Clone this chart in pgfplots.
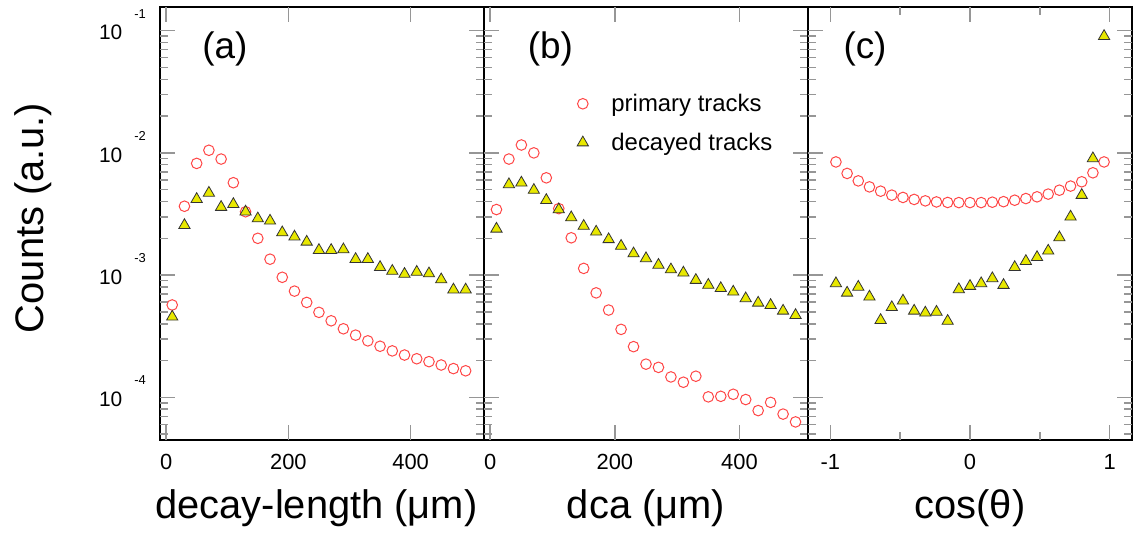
\documentclass[border=0pt]{standalone}
\usepackage{fontspec}
\setmainfont{Liberation Sans}
\usepackage{pgfplots}
\pgfplotsset{compat=1.18}
\definecolor{primcol}{RGB}{255,70,70}
\definecolor{decfill}{RGB}{232,232,0}
\definecolor{tickcol}{RGB}{150,150,150}
\pgfplotsset{
 primsty/.style={only marks, mark=o, mark size=5.3bp, color=primcol, mark options={line width=1bp}},
 decsty/.style={only marks, mark=triangle*, mark size=6.5bp, color=black!80, mark options={draw=black!80, fill=decfill, line width=0.8bp}},
}
\tikzset{plabel/.style={font=\fontsize{37}{37}\selectfont, inner sep=0pt},
         tk/.style={draw=tickcol, line width=1.5bp}}
% y ticks on both sides of a panel: #1 = xmin, #2 = xmax
\newcommand{\yticksdraw}[2]{%
 \pgfplotsinvokeforeach{1e-4,1e-3,1e-2,1e-1}{\draw[tk] (axis cs:#1,##1) -- ++(15bp,0pt); \draw[tk] (axis cs:#2,##1) -- ++(-15bp,0pt);}%
 \pgfplotsinvokeforeach{5e-5,6e-5,7e-5,8e-5,9e-5,2e-4,3e-4,4e-4,5e-4,6e-4,7e-4,8e-4,9e-4,2e-3,3e-3,4e-3,5e-3,6e-3,7e-3,8e-3,9e-3,2e-2,3e-2,4e-2,5e-2,6e-2,7e-2,8e-2,9e-2}{\draw[tk] (axis cs:#1,##1) -- ++(8bp,0pt); \draw[tk] (axis cs:#2,##1) -- ++(-8bp,0pt);}%
}
% x ticks at bottom and top: #1 = list, #2 = length
\newcommand{\xticksdraw}[2]{%
 \pgfplotsinvokeforeach{#1}{\draw[tk] (axis cs:##1,4.48e-5) -- ++(0pt,#2); \draw[tk] (axis cs:##1,0.156) -- ++(0pt,-#2);}%
}
\begin{document}
\begin{tikzpicture}
% ---------------- (a)
\begin{semilogyaxis}[at={(0bp,0bp)}, anchor=south west,
  scale only axis, width=324bp, height=433bp,
  ymin=4.48e-5, ymax=0.156, clip=false,
  axis line style={line width=1.8bp,black},
  major tick length=0pt, minor tick length=0pt,
  ytick={1e-4,1e-3,1e-2,1e-1},
  xticklabel style={font=\fontsize{22}{22}\selectfont, inner sep=0pt, anchor=north, yshift=-14bp},
  xmin=-10, xmax=520, xtick={0,200,400}, xticklabels={0,200,400},
  xlabel={decay-length (μm)},
  xlabel style={font=\fontsize{40}{40}\selectfont, at={(axis description cs:0.483,-0.1824)}, anchor=base},
  ylabel={Counts (a.u.)},
  ylabel style={font=\fontsize{40}{40}\selectfont, at={(axis description cs:-0.361,0.513)}, anchor=base},
  yticklabels={10\hspace{12bp}\raisebox{21.7bp}{\fontsize{13}{13}\selectfont -4},
               10\hspace{12bp}\raisebox{21.7bp}{\fontsize{13}{13}\selectfont -3},
               10\hspace{12bp}\raisebox{21.7bp}{\fontsize{13}{13}\selectfont -2},
               10\hspace{12bp}\raisebox{21.7bp}{\fontsize{13}{13}\selectfont -1}},
  yticklabel style={font=\fontsize{21}{21}\selectfont, anchor=base east, inner sep=0pt, xshift=-14bp, yshift=-9.3bp},
]
\yticksdraw{-10}{520}
\xticksdraw{0,200,400}{15bp}
\addplot[primsty] coordinates {
(10,5.7e-4) (30,3.66e-3) (50,8.2e-3) (70,1.05e-2) (90,8.9e-3) (110,5.7e-3)
(130,3.3e-3) (150,2.0e-3) (170,1.35e-3) (190,9.6e-4) (210,7.4e-4) (230,5.98e-4)
(250,4.96e-4) (270,4.23e-4) (290,3.64e-4) (310,3.23e-4) (330,2.9e-4) (350,2.62e-4)
(370,2.40e-4) (390,2.22e-4) (410,2.07e-4) (430,1.96e-4) (450,1.84e-4) (470,1.72e-4) (490,1.65e-4)};
\addplot[decsty] coordinates {
(10,4.56e-4) (30,2.56e-3) (50,4.18e-3) (70,4.7e-3) (90,3.6e-3) (110,3.8e-3)
(130,3.3e-3) (150,2.9e-3) (170,2.78e-3) (190,2.23e-3) (210,2.06e-3) (230,1.87e-3)
(250,1.6e-3) (270,1.6e-3) (290,1.62e-3) (310,1.35e-3) (330,1.35e-3) (350,1.16e-3)
(370,1.08e-3) (390,1.02e-3) (410,1.06e-3) (430,1.03e-3) (450,9.2e-4) (470,7.6e-4) (490,7.6e-4)};
\node[plabel] at (axis description cs:0.2,0.903) {(a)};
\end{semilogyaxis}
% ---------------- (b)
\begin{semilogyaxis}[at={(324bp,0bp)}, anchor=south west,
  scale only axis, width=324bp, height=433bp,
  ymin=4.48e-5, ymax=0.156, clip=false,
  axis line style={line width=1.8bp,black},
  major tick length=0pt, minor tick length=0pt,
  ytick={1e-4,1e-3,1e-2,1e-1},
  yticklabels={},
  xticklabel style={font=\fontsize{22}{22}\selectfont, inner sep=0pt, anchor=north, yshift=-14bp},
  xmin=-10, xmax=510, xtick={0,200,400}, xticklabels={0,200,400},
  xlabel={dca (μm)},
  xlabel style={font=\fontsize{40}{40}\selectfont, at={(axis description cs:0.5,-0.1824)}, anchor=base},
  legend style={at={(axis description cs:0.287,0.801)}, anchor=north west, draw=none, fill=none,
    font=\fontsize{24}{24}\selectfont, row sep=18bp, inner sep=0pt, nodes={inner sep=1bp},
    cells={anchor=west}, /tikz/every odd column/.append style={column sep=22bp}},
  legend image code/.code={\draw[#1] plot coordinates {(0bp,0bp)};},
]
\yticksdraw{-10}{510}
\xticksdraw{0,200,400}{15bp}
\addplot[primsty] coordinates {
(10,3.44e-3) (30,8.9e-3) (50,1.16e-2) (70,1.0e-2) (90,6.25e-3) (110,3.5e-3)
(130,2.02e-3) (150,1.135e-3) (170,7.16e-4) (190,5.18e-4) (210,3.6e-4) (230,2.6e-4)
(250,1.87e-4) (270,1.76e-4) (290,1.47e-4) (310,1.33e-4) (330,1.49e-4) (350,1.01e-4)
(370,1.02e-4) (390,1.06e-4) (410,9.6e-5) (430,7.8e-5) (450,9.1e-5) (470,7.3e-5) (490,6.3e-5)};
\addlegendentry{primary tracks}
\addplot[decsty] coordinates {
(10,2.39e-3) (30,5.52e-3) (50,5.69e-3) (70,4.96e-3) (90,4.1e-3) (110,3.44e-3)
(130,2.96e-3) (150,2.52e-3) (170,2.26e-3) (190,1.96e-3) (210,1.73e-3) (230,1.5e-3)
(250,1.37e-3) (270,1.21e-3) (290,1.11e-3) (310,1.045e-3) (330,9.1e-4) (350,8.3e-4)
(370,7.8e-4) (390,7.3e-4) (410,6.44e-4) (430,5.93e-4) (450,5.68e-4) (470,5.1e-4) (490,4.7e-4)};
\addlegendentry{decayed tracks}
\node[plabel] at (axis description cs:0.205,0.903) {(b)};
\end{semilogyaxis}
% ---------------- (c)
\begin{semilogyaxis}[at={(648bp,0bp)}, anchor=south west,
  scale only axis, width=324bp, height=433bp,
  ymin=4.48e-5, ymax=0.156, clip=false,
  axis line style={line width=1.8bp,black},
  major tick length=0pt, minor tick length=0pt,
  ytick={1e-4,1e-3,1e-2,1e-1},
  yticklabels={},
  xticklabel style={font=\fontsize{22}{22}\selectfont, inner sep=0pt, anchor=north, yshift=-14bp},
  xmin=-1.16, xmax=1.16, xtick={-1,0,1}, xticklabels={-1,0,1},
  xlabel={cos(θ)},
  xlabel style={font=\fontsize{40}{40}\selectfont, at={(axis description cs:0.5,-0.1824)}, anchor=base},
]
\yticksdraw{-1.16}{1.16}
\xticksdraw{-1,0,1}{15bp}
\xticksdraw{-0.5,0.5}{8bp}
\addplot[primsty] coordinates {
(-0.96,8.43e-3) (-0.88,6.79e-3) (-0.80,5.9e-3) (-0.72,5.27e-3) (-0.64,4.86e-3)
(-0.56,4.51e-3) (-0.48,4.32e-3) (-0.40,4.16e-3) (-0.32,4.05e-3) (-0.24,3.97e-3)
(-0.16,3.93e-3) (-0.08,3.92e-3) (0,3.92e-3) (0.08,3.92e-3) (0.16,3.95e-3)
(0.24,3.99e-3) (0.32,4.1e-3) (0.40,4.23e-3) (0.48,4.37e-3) (0.56,4.6e-3)
(0.64,4.95e-3) (0.72,5.35e-3) (0.80,5.8e-3) (0.88,6.87e-3) (0.96,8.43e-3)};
\addplot[decsty] coordinates {
(-0.96,8.55e-4) (-0.88,7.16e-4) (-0.80,8.0e-4) (-0.72,6.65e-4) (-0.64,4.28e-4)
(-0.56,5.45e-4) (-0.48,6.17e-4) (-0.40,5.1e-4) (-0.32,4.92e-4) (-0.24,5.0e-4)
(-0.16,4.21e-4) (-0.08,7.64e-4) (0,8.13e-4) (0.08,8.55e-4) (0.16,9.4e-4)
(0.24,8.28e-4) (0.32,1.16e-3) (0.40,1.30e-3) (0.48,1.40e-3) (0.56,1.58e-3)
(0.64,2.03e-3) (0.72,3.0e-3) (0.80,4.51e-3) (0.88,9.0e-3) (0.96,9.0e-2)};
\node[plabel] at (axis description cs:0.176,0.903) {(c)};
\end{semilogyaxis}
\pgfresetboundingbox
\path[use as bounding box] (-160bp,-93bp) rectangle (973bp,440bp);
\end{tikzpicture}
\end{document}
